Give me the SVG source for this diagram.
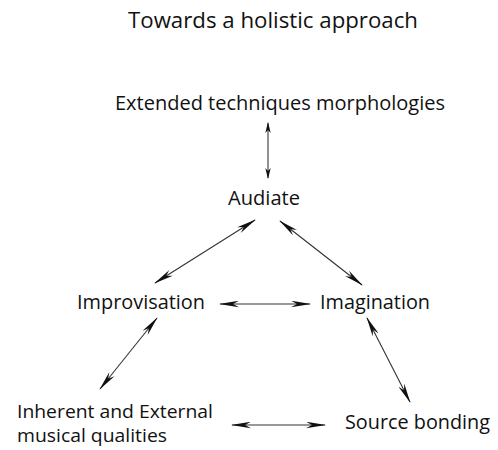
<svg xmlns="http://www.w3.org/2000/svg" width="498" height="450" viewBox="0 0 498 450">
<defs>
<marker id="ah" viewBox="0 0 20 7" markerWidth="20" markerHeight="7" refX="19" refY="3.5" orient="auto-start-reverse" markerUnits="userSpaceOnUse">
<path d="M0,0.2 L20,3.5 L0,6.8 L6,3.5 z" fill="#111"/>
</marker>
<marker id="as" viewBox="0 0 11 6" markerWidth="11" markerHeight="6" refX="10" refY="3" orient="auto-start-reverse" markerUnits="userSpaceOnUse">
<path d="M0,0.3 L11,3 L0,5.7 L3,3 z" fill="#111"/>
</marker>
<style>
text{font-family:"Open Sans","Noto Sans",sans-serif;fill:#111;font-size:19.5px}
.t{font-size:22px}
.m{font-size:18px}
.c line{stroke:#333;stroke-width:1.1;marker-start:url(#ah);marker-end:url(#ah)}
.c line.s{stroke:#555;stroke-width:1.3;marker-start:url(#as);marker-end:url(#as)}
</style>
</defs>
<rect width="498" height="450" fill="#fff"/>
<text class="t" x="128" y="28" textLength="290" lengthAdjust="spacingAndGlyphs">Towards a holistic approach</text>
<g id="n-ext"><text x="115" y="110" textLength="330" lengthAdjust="spacingAndGlyphs">Extended techniques morphologies</text></g>
<g id="n-aud"><text x="228" y="205" textLength="72" lengthAdjust="spacingAndGlyphs">Audiate</text></g>
<g id="n-imp"><text x="77" y="309" textLength="128" lengthAdjust="spacingAndGlyphs">Improvisation</text></g>
<g id="n-ima"><text x="320" y="309" textLength="110" lengthAdjust="spacingAndGlyphs">Imagination</text></g>
<g id="n-inh"><text class="m" x="17" y="418" textLength="196" lengthAdjust="spacingAndGlyphs">Inherent and External</text><text class="m" x="17" y="442" textLength="150" lengthAdjust="spacingAndGlyphs">musical qualities</text></g>
<g id="n-src"><text x="345" y="429" textLength="145" lengthAdjust="spacingAndGlyphs">Source bonding</text></g>
<g class="c" id="connectors">
<line class="s" x1="268" y1="123" x2="268" y2="178"/>
<line x1="255" y1="220" x2="155" y2="283"/>
<line x1="280" y1="221" x2="362" y2="285"/>
<line x1="220" y1="304" x2="310" y2="304"/>
<line x1="157" y1="318" x2="100" y2="389"/>
<line x1="367" y1="318" x2="410" y2="402"/>
<line x1="232" y1="425" x2="325" y2="425"/>
</g>
</svg>
